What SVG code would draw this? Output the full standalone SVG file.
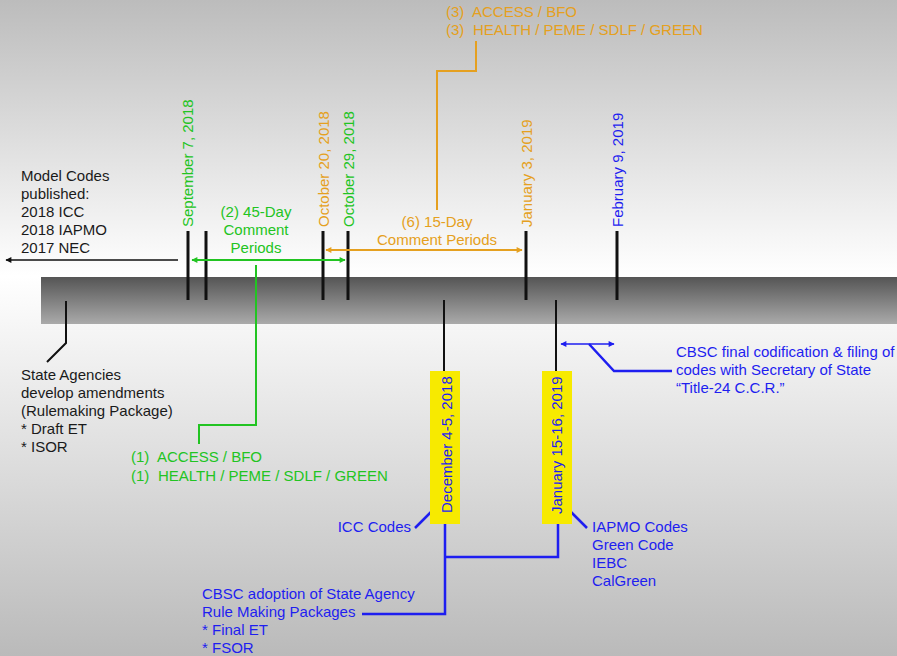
<svg xmlns="http://www.w3.org/2000/svg" width="897" height="656" viewBox="0 0 897 656">
<defs>
<linearGradient id="bgTop" x1="0" y1="0" x2="0" y2="1"><stop offset="0" stop-color="#bcbcbc"/><stop offset="1" stop-color="#ffffff"/></linearGradient>
<linearGradient id="bgBot" x1="0" y1="0" x2="0" y2="1"><stop offset="0" stop-color="#ffffff"/><stop offset="1" stop-color="#bababa"/></linearGradient>
<linearGradient id="bar" x1="0" y1="0" x2="0" y2="1"><stop offset="0" stop-color="#555555"/><stop offset="1" stop-color="#aaaaaa"/></linearGradient>
<marker id="aK" viewBox="0 0 10 10" refX="9" refY="5" markerWidth="8" markerHeight="6" orient="auto-start-reverse" markerUnits="userSpaceOnUse"><path d="M0,0 L10,5 L0,10 z" fill="#111"/></marker>
<marker id="aG" viewBox="0 0 10 10" refX="9" refY="5" markerWidth="8" markerHeight="6" orient="auto-start-reverse" markerUnits="userSpaceOnUse"><path d="M0,0 L10,5 L0,10 z" fill="#22c422"/></marker>
<marker id="aO" viewBox="0 0 10 10" refX="9" refY="5" markerWidth="8" markerHeight="6" orient="auto-start-reverse" markerUnits="userSpaceOnUse"><path d="M0,0 L10,5 L0,10 z" fill="#e5a020"/></marker>
<marker id="aB" viewBox="0 0 10 10" refX="9" refY="5" markerWidth="8" markerHeight="6" orient="auto-start-reverse" markerUnits="userSpaceOnUse"><path d="M0,0 L10,5 L0,10 z" fill="#1e1ef0"/></marker>
</defs>
<style>
text{font-family:"Liberation Sans",Arial,sans-serif;font-size:15px}
.k{fill:#1a1a1a}.g{fill:#22c422}.o{fill:#e5a020}.b{fill:#1e1ef0}
.tick{stroke:#111;stroke-width:3;fill:none}
.thin{stroke:#111;stroke-width:2;fill:none}
.lg{stroke:#22c422;stroke-width:2;fill:none}
.lo{stroke:#e5a020;stroke-width:2;fill:none}
.lb{stroke:#1e1ef0;stroke-width:2.5;fill:none}
.yel{fill:#f7ea00}
</style>
<rect x="0" y="0" width="897" height="276" fill="url(#bgTop)"/>
<rect x="0" y="276" width="897" height="380" fill="url(#bgBot)"/>
<rect id="timeline-bar" x="41" y="277" width="856" height="47" fill="url(#bar)"/>

<g id="connectors">
<line class="tick" x1="188" y1="231" x2="188" y2="300"/>
<line class="tick" x1="206" y1="231" x2="206" y2="300"/>
<line class="tick" x1="323" y1="231" x2="323" y2="300"/>
<line class="tick" x1="348" y1="231" x2="348" y2="300"/>
<line class="tick" x1="526" y1="231" x2="526" y2="300"/>
<line class="tick" x1="617" y1="231" x2="617" y2="300"/>
<polyline class="thin" points="66,301 66,343 47,362"/>
<line class="thin" x1="444" y1="300" x2="444" y2="371"/>
<line class="thin" x1="556" y1="300" x2="556" y2="371"/>
<line x1="178" y1="260" x2="6" y2="260" stroke="#111" stroke-width="1.5" marker-end="url(#aK)"/>
<line class="lg" x1="192" y1="260" x2="345" y2="260" marker-start="url(#aG)" marker-end="url(#aG)"/>
<polyline class="lg" points="256,265 256,425 199,425 199,444"/>
<line class="lo" x1="326" y1="250" x2="522" y2="250" marker-start="url(#aO)" marker-end="url(#aO)"/>
<polyline class="lo" points="437,210 437,71 476,71 476,41"/>
<polyline class="lb" points="445,524 445,614 362,614"/>
<polyline class="lb" points="445,557 558,557 558,524"/>
<line class="lb" x1="415" y1="528" x2="433" y2="510"/>
<line class="lb" x1="569" y1="510" x2="587" y2="528"/>
<line x1="561" y1="344" x2="614" y2="344" stroke="#1e1ef0" stroke-width="1.5" marker-start="url(#aB)" marker-end="url(#aB)"/>
<polyline class="lb" points="589,344 614,371 672,371"/>
</g>

<g id="model-codes"><text class="k"><tspan x="21" y="181">Model Codes</tspan><tspan x="21" y="199">published:</tspan><tspan x="21" y="217">2018 ICC</tspan><tspan x="21" y="235">2018 IAPMO</tspan><tspan x="21" y="253">2017 NEC</tspan></text></g>
<g id="sep7"><text class="g" transform="translate(193,227) rotate(-90)">September 7, 2018</text></g>
<g id="oct20"><text class="o" transform="translate(329,227) rotate(-90)">October 20, 2018</text></g>
<g id="oct29"><text class="g" transform="translate(354,227) rotate(-90)">October 29, 2018</text></g>
<g id="jan3"><text class="o" transform="translate(532,227) rotate(-90)">January 3, 2019</text></g>
<g id="feb9"><text class="b" transform="translate(623,227) rotate(-90)">February 9, 2019</text></g>
<g id="day45"><text class="g" text-anchor="middle"><tspan x="256" y="217">(2) 45-Day</tspan><tspan x="256" y="235">Comment</tspan><tspan x="256" y="253">Periods</tspan></text></g>
<g id="day15"><text class="o" text-anchor="middle"><tspan x="437" y="227">(6) 15-Day</tspan><tspan x="437" y="245">Comment Periods</tspan></text></g>
<g id="round3"><text class="o"><tspan x="446" y="17">(3)</tspan><tspan x="472" y="17">ACCESS / BFO</tspan><tspan x="446" y="35">(3)</tspan><tspan x="473" y="35">HEALTH / PEME / SDLF / GREEN</tspan></text></g>
<g id="round1"><text class="g"><tspan x="131" y="462">(1)</tspan><tspan x="157" y="462">ACCESS / BFO</tspan><tspan x="131" y="481">(1)</tspan><tspan x="158" y="481">HEALTH / PEME / SDLF / GREEN</tspan></text></g>
<g id="state-agencies"><text class="k"><tspan x="21" y="380">State Agencies</tspan><tspan x="21" y="398">develop amendments</tspan><tspan x="21" y="416">(Rulemaking Package)</tspan><tspan x="21" y="434">* Draft ET</tspan><tspan x="21" y="452">* ISOR</tspan></text></g>
<g id="dec45"><rect class="yel" x="430" y="371" width="30" height="153"/><text class="b" transform="translate(452,513) rotate(-90)">December 4-5, 2018</text></g>
<g id="jan1516"><rect class="yel" x="542" y="371" width="30" height="153"/><text class="b" transform="translate(562,514) rotate(-90)">January 15-16, 2019</text></g>
<g id="icc"><text class="b" x="411" y="532" text-anchor="end">ICC Codes</text></g>
<g id="iapmo"><text class="b"><tspan x="592" y="532">IAPMO Codes</tspan><tspan x="592" y="550">Green Code</tspan><tspan x="592" y="568">IEBC</tspan><tspan x="592" y="586">CalGreen</tspan></text></g>
<g id="cbsc-adoption"><text class="b"><tspan x="202" y="599">CBSC adoption of State Agency</tspan><tspan x="202" y="617">Rule Making Packages</tspan><tspan x="202" y="635">* Final ET</tspan><tspan x="202" y="653">* FSOR</tspan></text></g>
<g id="cbsc-final"><text class="b"><tspan x="676" y="357">CBSC final codification &amp; filing of</tspan><tspan x="676" y="375">codes with Secretary of State</tspan><tspan x="676" y="393">“Title-24 C.C.R.”</tspan></text></g>
</svg>
